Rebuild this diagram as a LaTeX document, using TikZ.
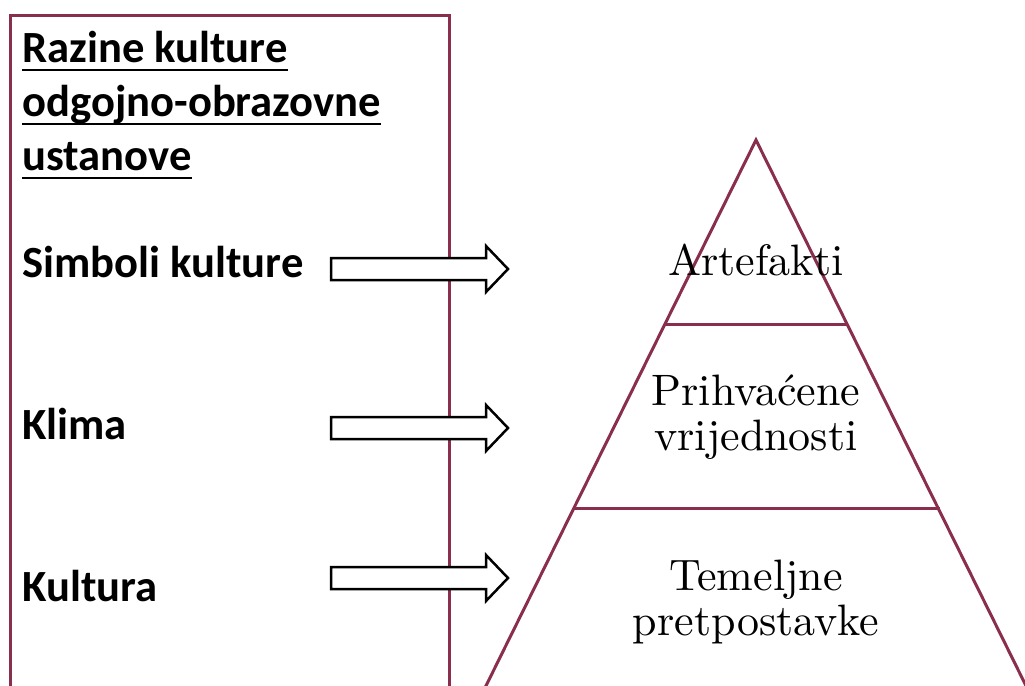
\documentclass[tikz,border=0pt]{standalone}
\usepackage{fontspec}
\newfontfamily\calibri{Carlito}
\newfontfamily\lmdeset{lmroman10-regular.otf}
\definecolor{bordo}{RGB}{138,46,78}
\tikzset{
  naslov/.style={anchor=base west,inner sep=0pt,font=\calibri\bfseries\fontsize{22.3}{26}\selectfont},
  razina/.style={anchor=base west,inner sep=0pt,font=\calibri\bfseries\fontsize{22.3}{26}\selectfont},
  sloj/.style={align=center,inner sep=0pt,font=\lmdeset\fontsize{22}{22.5}\selectfont},
  okvir/.style={bordo,line width=1.5pt},
  strelica/.style={draw=black,fill=white,line width=1.25pt,line join=miter}
}
\begin{document}
\begin{tikzpicture}[x=0.5pt,y=-0.5pt]
  \useasboundingbox (0,0) rectangle (1025,686);
  \clip (0,0) rectangle (1025,686);
  % lijevi okvir
  \draw[okvir] (10,700) -- (10,15) -- (449,15) -- (449,700);
  \node[naslov] (n1) at (22,62) {Razine kulture};
  \node[naslov] (n2) at (22,116) {odgojno-obrazovne};
  \node[naslov] (n3) at (22,170) {ustanove};
  \foreach \n in {n1,n2,n3}
    \draw[line width=1pt] ([yshift=-3.8pt]\n.base west) -- ([yshift=-3.8pt]\n.base east);
  \node[razina] (simboli) at (22,277) {Simboli kulture};
  \node[razina] (klima) at (22,439) {Klima};
  \node[razina] (kultura) at (22,601) {Kultura};
  % strelice
  \foreach \y in {269,428,578}
    \draw[strelica] (331,\y-11) -- (486,\y-11) -- (486,\y-23) -- (508,\y)
      -- (486,\y+23) -- (486,\y+11) -- (331,\y+11) -- cycle;
  % piramida
  \coordinate (vrh) at (756,140);
  \coordinate (l1) at (665,324);
  \coordinate (d1) at (848,324);
  \coordinate (l2) at (573,508);
  \coordinate (d2) at (940,508);
  \coordinate (l3) at (476,706);
  \coordinate (d3) at (1036,706);
  \draw[okvir,line join=miter] (l3) -- (vrh) -- (d3);
  \draw[okvir] (l1) -- (d1);
  \draw[okvir] (l2) -- (d2);
  \node[sloj,anchor=base] (artefakti) at (756,275) {Artefakti};
  \node[sloj,anchor=base] (vrijednosti) at (756,450) {Prihvaćene\\vrijednosti};
  \node[sloj,anchor=base] (pretpostavke) at (756,635) {Temeljne\\pretpostavke};
\end{tikzpicture}
\end{document}
